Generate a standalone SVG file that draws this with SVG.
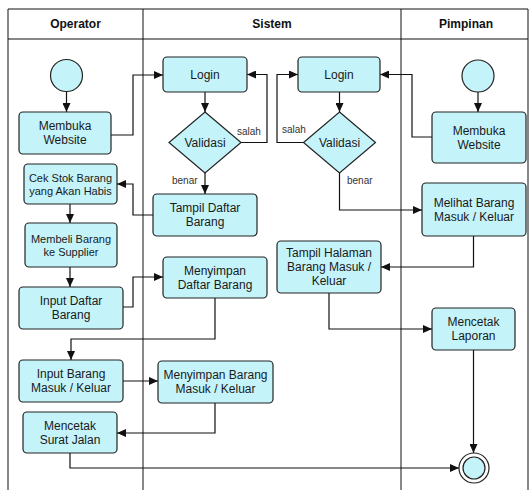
<svg xmlns="http://www.w3.org/2000/svg" width="530" height="490" viewBox="0 0 530 490">
<defs>
<marker id="arr" markerUnits="userSpaceOnUse" markerWidth="9" markerHeight="8" viewBox="0 0 9 8" refX="9" refY="4" orient="auto">
<path d="M0,0 L9,4 L0,8 z" fill="#111"/>
</marker>
<style>
.n{fill:#c4f4fa;stroke:#222;stroke-width:1.2}
.t{font-family:"Liberation Sans",Arial,sans-serif;font-size:12px;fill:#1a1a1a;text-anchor:middle}
.s{font-size:11px}
.h{font-family:"Liberation Sans",Arial,sans-serif;font-size:12px;font-weight:bold;fill:#111;text-anchor:middle}
.l{font-family:"Liberation Sans",Arial,sans-serif;font-size:10px;fill:#333}
.c{fill:none;stroke:#111;stroke-width:1.2;marker-end:url(#arr)}
.f{fill:none;stroke:#111;stroke-width:1}
</style>
</defs>
<rect fill="#fff" width="530" height="490"/>
<g id="lanes">
<path class="f" d="M8,490 V9 H528 V490 M8,39 H528 M143,9 V490 M401,9 V490"/>
<text class="h" x="75.5" y="28">Operator</text>
<text class="h" x="272" y="28">Sistem</text>
<text class="h" x="466" y="28">Pimpinan</text>
</g>
<g id="connectors">
<path class="c" d="M66.5,91.5 V112"/>
<path class="c" d="M111,135 H133 V75 H163"/>
<path class="c" d="M205,92 V112"/>
<path class="c" d="M241,142.5 H267 V74.5 H247"/>
<path class="c" d="M205,173 V194"/>
<path class="c" d="M153,215 H133 V184 H117"/>
<path class="c" d="M70,204 V223"/>
<path class="c" d="M70,267 V287"/>
<path class="c" d="M123,307 H133 V277 H163"/>
<path class="c" d="M215,298 V339 H71 V360"/>
<path class="c" d="M123,381 H158"/>
<path class="c" d="M215,403 V433 H117"/>
<path class="c" d="M70,453 V468 H459"/>
<path class="c" d="M478,92 V112"/>
<path class="c" d="M432,137 H412 V74.5 H380"/>
<path class="c" d="M339.5,92 V112"/>
<path class="c" d="M303.5,142.5 H277 V74.5 H298"/>
<path class="c" d="M339.5,173 V210 H422"/>
<path class="c" d="M473.5,236 V267 H381"/>
<path class="c" d="M329,293 V329 H432"/>
<path class="c" d="M473.5,350 V453"/>
<text class="l" x="237" y="135">salah</text>
<text class="l" x="172" y="184">benar</text>
<text class="l" x="282" y="133">salah</text>
<text class="l" x="347" y="184">benar</text>
</g>
<g id="start-operator"><circle class="n" cx="66.5" cy="75.5" r="16"/></g>
<g id="start-pimpinan"><circle class="n" cx="478" cy="76" r="16"/></g>
<g id="membuka-operator"><rect class="n" x="19" y="112" width="92" height="42" rx="4"/><text class="t" x="65" y="130.3">Membuka</text><text class="t" x="65" y="144.3">Website</text></g>
<g id="login1"><rect class="n" x="163" y="57" width="84" height="35" rx="4"/><text class="t" x="205" y="78.8">Login</text></g>
<g id="validasi1"><polygon class="n" points="205,112 241,142.5 205,173 169,142.5"/><text class="t" x="205" y="146.8">Validasi</text></g>
<g id="login2"><rect class="n" x="298" y="57" width="82" height="35" rx="4"/><text class="t" x="339" y="78.8">Login</text></g>
<g id="validasi2"><polygon class="n" points="339.5,112 375.5,142.5 339.5,173 303.5,142.5"/><text class="t" x="339.5" y="146.8">Validasi</text></g>
<g id="membuka-pimpinan"><rect class="n" x="432" y="112" width="94" height="51" rx="4"/><text class="t" x="479" y="134.8">Membuka</text><text class="t" x="479" y="148.8">Website</text></g>
<g id="cek-stok"><rect class="n" x="24" y="164" width="93" height="40" rx="4"/><text class="t s" x="70.5" y="181.5">Cek Stok Barang</text><text class="t s" x="70.5" y="194.5">yang Akan Habis</text></g>
<g id="tampil-daftar"><rect class="n" x="153" y="194" width="104" height="42" rx="4"/><text class="t" x="205" y="212.3">Tampil Daftar</text><text class="t" x="205" y="226.3">Barang</text></g>
<g id="membeli"><rect class="n" x="25" y="223" width="92" height="44" rx="4"/><text class="t s" x="71" y="242.5">Membeli Barang</text><text class="t s" x="71" y="255.5">ke Supplier</text></g>
<g id="melihat"><rect class="n" x="422" y="183" width="104" height="53" rx="4"/><text class="t" x="474" y="206.8">Melihat Barang</text><text class="t" x="474" y="220.8">Masuk / Keluar</text></g>
<g id="tampil-halaman"><rect class="n" x="277" y="241" width="104" height="52" rx="4"/><text class="t" x="329" y="257">Tampil Halaman</text><text class="t" x="329" y="271">Barang Masuk /</text><text class="t" x="329" y="285">Keluar</text></g>
<g id="menyimpan-daftar"><rect class="n" x="163" y="257" width="104" height="41" rx="4"/><text class="t" x="215" y="274.8">Menyimpan</text><text class="t" x="215" y="288.8">Daftar Barang</text></g>
<g id="input-daftar"><rect class="n" x="19" y="287" width="104" height="42" rx="4"/><text class="t" x="71" y="305.3">Input Daftar</text><text class="t" x="71" y="319.3">Barang</text></g>
<g id="mencetak-laporan"><rect class="n" x="432" y="308" width="83" height="42" rx="4"/><text class="t" x="473.5" y="326.3">Mencetak</text><text class="t" x="473.5" y="340.3">Laporan</text></g>
<g id="input-barang"><rect class="n" x="19" y="360" width="104" height="42" rx="4"/><text class="t" x="71" y="378.3">Input Barang</text><text class="t" x="71" y="392.3">Masuk / Keluar</text></g>
<g id="menyimpan-barang"><rect class="n" x="158" y="361" width="115" height="42" rx="4"/><text class="t" x="215.5" y="379.3">Menyimpan Barang</text><text class="t" x="215.5" y="393.3">Masuk / Keluar</text></g>
<g id="surat-jalan"><rect class="n" x="23" y="412" width="94" height="41" rx="4"/><text class="t" x="70" y="429.8">Mencetak</text><text class="t" x="70" y="443.8">Surat Jalan</text></g>
<g id="end"><circle cx="474" cy="468" r="15" fill="#fff" stroke="#222" stroke-width="1.2"/><circle class="n" cx="474" cy="468" r="11"/></g>
</svg>
